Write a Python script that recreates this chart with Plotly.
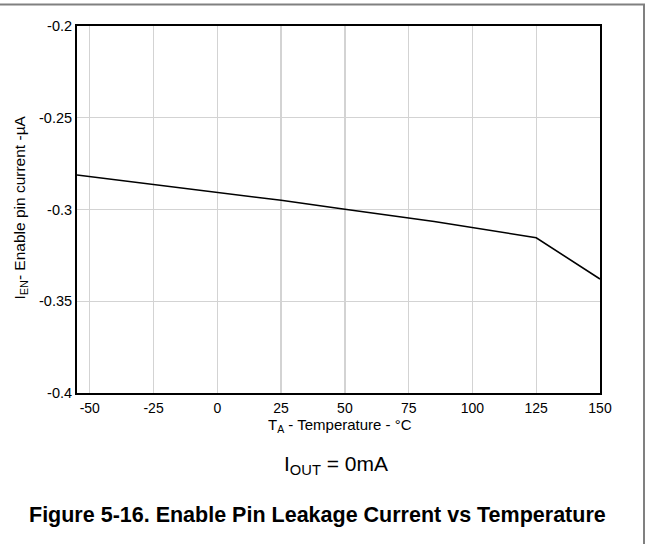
import plotly.graph_objects as go

temperature_c = [-55, 0, 25, 50, 85, 125, 150]
enable_current_ua = [-0.2812, -0.2908, -0.2950, -0.2999, -0.3065, -0.3154, -0.3379]

x_ticks = [-50, -25, 0, 25, 50, 75, 100, 125, 150]
x_ticktext = ["-50", "-25", "0", "25", "50", "75", "100", "125", "150"]
y_ticks = [-0.4, -0.35, -0.3, -0.25, -0.2]
y_ticktext = ["-0.4", "-0.35", "-0.3", "-0.25", "-0.2"]

FONT = "Liberation Sans, Arial, sans-serif"

fig = go.Figure()
fig.add_trace(go.Scatter(x=temperature_c, y=enable_current_ua, mode="lines",
                         line=dict(color="black", width=1.6), showlegend=False,
                         hoverinfo="skip"))

L, R, T, B = 77, 47, 26, 151
W, H = 647, 544
pw, ph = W - L - R, H - T - B

def px(x):
    return (x - L) / pw

def py(y):
    return (H - B - y) / ph

fig.update_layout(
    width=W, height=H,
    margin=dict(l=L, r=R, t=T, b=B, pad=0),
    paper_bgcolor="white", plot_bgcolor="white",
    font=dict(family=FONT, color="black", size=14),
    xaxis=dict(range=[-55, 150], tickvals=x_ticks, ticktext=x_ticktext,
               showgrid=True, gridcolor="#d3d3d3", gridwidth=1.3,
               showline=True, linecolor="black", linewidth=2, mirror=True,
               ticks="", zeroline=False, ticklabelstandoff=1,
               tickfont=dict(size=14, family=FONT)),
    yaxis=dict(range=[-0.4, -0.2], tickvals=y_ticks, ticktext=y_ticktext,
               showgrid=True, gridcolor="#d3d3d3", gridwidth=1.3,
               showline=True, linecolor="black", linewidth=2, mirror=True,
               ticks="", zeroline=False, tickfont=dict(size=14.5, family=FONT)),
    annotations=[
        dict(text="T<sub>A</sub> - Temperature - °C", xref="paper", yref="paper",
             x=px(340), y=py(425.5), xanchor="center", yanchor="middle",
             showarrow=False, font=dict(size=15, family=FONT)),
        dict(text="I<sub>EN</sub>- Enable pin current -µA", xref="paper", yref="paper",
             x=px(20), y=py(207.5), xanchor="center", yanchor="middle", textangle=-90,
             showarrow=False, font=dict(size=15.5, family=FONT)),
        dict(text="I<sub>OUT</sub> = 0mA", xref="paper", yref="paper",
             x=px(335.5), y=py(465), xanchor="center", yanchor="middle",
             showarrow=False, font=dict(size=21, family=FONT)),
        dict(text="<b>Figure 5-16. Enable Pin Leakage Current vs Temperature</b>",
             xref="paper", yref="paper",
             x=px(317), y=py(515), xanchor="center", yanchor="middle",
             showarrow=False, font=dict(size=21.5, family=FONT)),
    ],
    shapes=[
        dict(type="rect", xref="paper", yref="paper",
             x0=px(-3), x1=px(644), y0=py(548), y1=py(4.5),
             line=dict(color="#808080", width=2), fillcolor="rgba(0,0,0,0)",
             layer="below"),
    ],
)

fig.write_html("out.html",
               config={"displayModeBar": False, "staticPlot": True},
               post_script="document.body.style.margin='0';document.body.style.padding='0';")
